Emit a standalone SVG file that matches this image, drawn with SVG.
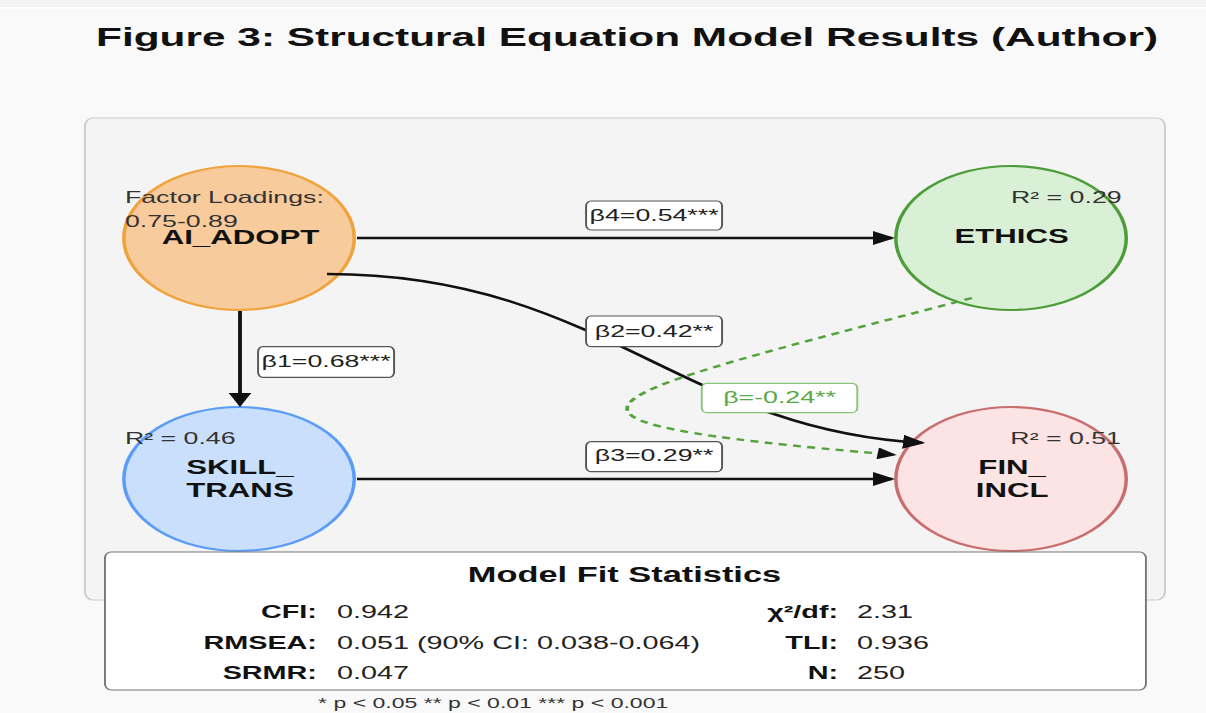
<svg xmlns="http://www.w3.org/2000/svg" width="1206" height="713" viewBox="0 0 1206 713">
<defs>
<style>
text{font-family:"Liberation Sans",Arial,sans-serif;}
.title{font-size:26.5px;font-weight:bold;fill:#111;}
.node-label{font-size:19.5px;font-weight:bold;fill:#111;text-anchor:middle;}
.small{font-size:16.7px;fill:#333;}
.edge-box{fill:#fff;stroke:#555;stroke-width:1.2;}
.edge-text{font-size:16.7px;fill:#222;text-anchor:middle;}
.conn{fill:none;stroke:#111;stroke-width:2.4;}
.dash{fill:none;stroke:#55a33f;stroke-width:2.4;stroke-dasharray:5 4;}
.stat-h{font-size:21.5px;font-weight:bold;fill:#111;text-anchor:middle;}
.stat-l{font-size:18px;font-weight:bold;fill:#111;text-anchor:end;}
.stat-v{font-size:18px;fill:#222;}
</style>
<marker id="arr" viewBox="0 0 10 10" refX="8.6" refY="5" markerUnits="userSpaceOnUse" markerWidth="14" markerHeight="14" orient="auto">
<path d="M0,0 L10,5 L0,10 z" fill="#111"/>
</marker>
<marker id="arrg" viewBox="0 0 10 10" refX="8.6" refY="5" markerUnits="userSpaceOnUse" markerWidth="13" markerHeight="12" orient="auto">
<path d="M0,0 L10,5 L0,10 z" fill="#111"/>
</marker>
</defs>
<rect x="0" y="0" width="1206" height="713" fill="#f9f9f9"/>
<rect x="0" y="0" width="1206" height="7" fill="#f3f3f3"/>
<line x1="0" y1="8" x2="1206" y2="8" stroke="#ffffff" stroke-width="2"/>
<g transform="scale(1.6,1)">
<text class="title" x="391.9" y="46" text-anchor="middle">Figure 3: Structural Equation Model Results (Author)</text>
<rect id="panel" x="53.1" y="118" width="675" height="482" rx="5" ry="8" fill="#f4f4f4" stroke="#cccccc" stroke-width="1.2"/>
<g id="AI_ADOPT">
<circle cx="149.4" cy="238" r="72" fill="#f8cb9c" stroke="#f0a23c" stroke-width="2.2"/>
<text class="small" x="78.1" y="203">Factor Loadings:</text>
<text class="small" x="78.1" y="227">0.75-0.89</text>
<text class="node-label" x="150.3" y="244.5">AI_ADOPT</text>
</g>
<g id="ETHICS">
<circle cx="631.9" cy="238" r="72" fill="#daf0d6" stroke="#4d9e3a" stroke-width="2.2"/>
<text class="small" x="701" y="203" text-anchor="end">R² = 0.29</text>
<text class="node-label" x="632.3" y="243.5">ETHICS</text>
</g>
<g id="SKILL_TRANS">
<circle cx="149.4" cy="479" r="72" fill="#c9dffc" stroke="#5b9cf8" stroke-width="2.2"/>
<text class="small" x="78.1" y="444">R² = 0.46</text>
<text class="node-label" x="150" y="474">SKILL_</text>
<text class="node-label" x="150" y="497.5">TRANS</text>
</g>
<g id="FIN_INCL">
<circle cx="631.9" cy="479" r="72" fill="#fde4e4" stroke="#c86e6e" stroke-width="2.2"/>
<text class="small" x="700.6" y="444" text-anchor="end">R² = 0.51</text>
<text class="node-label" x="632.6" y="474">FIN_</text>
<text class="node-label" x="632.6" y="497">INCL</text>
</g>
<g id="connectors">
<line class="conn" x1="223.1" y1="238" x2="557.6" y2="238" marker-end="url(#arr)"/>
<line class="conn" x1="150" y1="311" x2="150" y2="405" marker-end="url(#arr)"/>
<line class="conn" x1="223.1" y1="479" x2="557.6" y2="479" marker-end="url(#arr)"/>
<path class="conn" d="M204.4,274 C375,274 425,430 576.4,442.8" marker-end="url(#arr)"/>
<path class="dash" d="M607.5,298 C362.5,400 300,420 558.8,454.8" marker-end="url(#arrg)"/>
<g id="label-b4">
<rect class="edge-box" x="366.3" y="201" width="85" height="29" rx="3" ry="5"/>
<text class="edge-text" x="408.8" y="221">β4=0.54***</text>
</g>
<g id="label-b1">
<rect class="edge-box" x="161.3" y="346.7" width="85" height="30.6" rx="3" ry="5"/>
<text class="edge-text" x="203.8" y="366.7">β1=0.68***</text>
</g>
<g id="label-b2">
<rect class="edge-box" x="366.3" y="316" width="85" height="30.7" rx="3" ry="5"/>
<text class="edge-text" x="408.8" y="336.7">β2=0.42**</text>
</g>
<g id="label-b3">
<rect class="edge-box" x="366.3" y="441.7" width="85" height="30" rx="3" ry="5"/>
<text class="edge-text" x="408.8" y="461">β3=0.29**</text>
</g>
<g id="label-b5">
<rect x="438.6" y="383.3" width="97.2" height="29.4" rx="3" ry="5" fill="#fff" stroke="#8cc57a" stroke-width="1.2"/>
<text class="edge-text" x="487.2" y="403.3" style="fill:#5aa844">β=-0.24**</text>
</g>
</g>
<g id="fit-stats">
<rect x="65.6" y="552" width="650.6" height="138" rx="4" ry="6" fill="#ffffff" stroke="#777" stroke-width="1.2"/>
<text class="stat-h" x="390.3" y="582">Model Fit Statistics</text>
<text class="stat-l" x="198.1" y="618">CFI:</text>
<text class="stat-v" x="210.6" y="618">0.942</text>
<text class="stat-l" x="198.1" y="649">RMSEA:</text>
<text class="stat-v" x="210.6" y="649">0.051 (90% CI: 0.038-0.064)</text>
<text class="stat-l" x="198.1" y="679">SRMR:</text>
<text class="stat-v" x="210.6" y="679">0.047</text>
<text class="stat-l" x="523.8" y="618">χ²/df:</text>
<text class="stat-v" x="535.6" y="618">2.31</text>
<text class="stat-l" x="523.8" y="649">TLI:</text>
<text class="stat-v" x="535.6" y="649">0.936</text>
<text class="stat-l" x="523.8" y="679">N:</text>
<text class="stat-v" x="535.6" y="679">250</text>
</g>
<text x="198.8" y="708" font-size="14.4" fill="#333">* p &lt; 0.05 ** p &lt; 0.01 *** p &lt; 0.001</text>
</g>
</svg>
